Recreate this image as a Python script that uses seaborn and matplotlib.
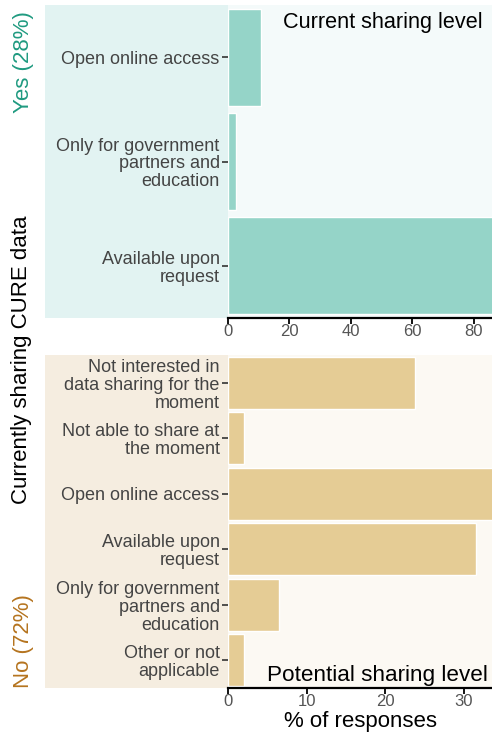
"""
CURE data sharing: current vs potential sharing level
"""
import matplotlib
matplotlib.use("Agg")
import matplotlib.pyplot as plt
from matplotlib.patches import Rectangle
import pandas as pd
import seaborn as sns

# Data
current_levels = ["Open online access",
                  "Only for government\npartners and\neducation",
                  "Available upon\nrequest"]
current_pct = [10.7, 2.7, 86.6]

potential_levels = ["Not interested in\ndata sharing for the\nmoment",
                    "Not able to share at\nthe moment",
                    "Open online access",
                    "Available upon\nrequest",
                    "Only for government\npartners and\neducation",
                    "Other or not\napplicable"]
potential_pct = [23.8, 2.0, 34.2, 31.5, 6.5, 2.0]

current_ticks = [0, 20, 40, 60, 80]
potential_ticks = [0, 10, 20, 30]

TEAL_BAR = "#95d4c8"
TAN_BAR = "#e5cc95"

sns.set_theme(style="white")
plt.rcParams['font.family'] = ['Liberation Sans', 'DejaVu Sans']

W, H = 492, 733
fig = plt.figure(figsize=(W / 100, H / 100), dpi=100)


def fx(px):
    return px / W


def fy(py):
    return 1 - py / H


def panel(top, bottom, levels, values, color, light, lighter, xmax, ticks, title, title_top):
    ax = fig.add_axes([fx(228), fy(bottom), 1 - fx(228), (bottom - top) / H])
    # shaded label area behind the category names
    fig.add_artist(Rectangle((fx(45), fy(bottom)), fx(228) - fx(45), (bottom - top) / H,
                             transform=fig.transFigure, facecolor=light,
                             edgecolor="none", zorder=0))
    ax.set_facecolor(lighter)
    df = pd.DataFrame({"level": levels, "pct": values})
    sns.barplot(data=df, x="pct", y="level", orient="h", color=color,
                saturation=1, width=0.93, ax=ax)
    ax.set_xlim(0, xmax)
    ax.set_ylim(len(levels) - 0.5, -0.5)
    ax.set_xticks(ticks)
    ax.set_xlabel("")
    ax.set_ylabel("")
    for s in ["top", "right", "left"]:
        ax.spines[s].set_visible(False)
    ax.spines["bottom"].set_color("black")
    ax.spines["bottom"].set_linewidth(1.6)
    ax.tick_params(axis="x", bottom=True, length=4, width=1.3, color="black",
                   labelsize=12, labelcolor="#555555", pad=0)
    ax.tick_params(axis="y", left=True, length=4, width=1.2, color="#333333",
                   labelsize=13, labelcolor="#444444", pad=2)
    for lab in ax.get_yticklabels():
        lab.set_linespacing(1.07)
        lab.set_multialignment("right")
    if title_top:
        ax.text(0.963, 0.978, title, transform=ax.transAxes, ha="right", va="top",
                fontsize=15.6, color="black")
    else:
        ax.text(0.983, 0.005, title, transform=ax.transAxes, ha="right", va="bottom",
                fontsize=16.2, color="black")
    return ax


panel(5, 318, current_levels, current_pct, TEAL_BAR, "#e2f3f2", "#f4fafa",
      86.0, current_ticks, "Current sharing level", True)
panel(355, 688, potential_levels, potential_pct, TAN_BAR, "#f5ede0", "#fcf9f3",
      33.6, potential_ticks, "Potential sharing level", False)

# facet strip labels and shared y label
fig.text(fx(23), fy(11), "Yes (28%)", rotation=90, ha="center", va="top",
         fontsize=16, color="#1f9a80")
fig.text(fx(23), fy(688), "No (72%)", rotation=90, ha="center", va="bottom",
         fontsize=16, color="#b5741f")
fig.text(fx(22), fy(360), "Currently sharing CURE data", rotation=90,
         ha="center", va="center", fontsize=16, color="black")
fig.text(fx(360), fy(727), "% of responses", ha="center", va="baseline",
         fontsize=16, color="black")

fig.savefig("out.png", dpi=100)
